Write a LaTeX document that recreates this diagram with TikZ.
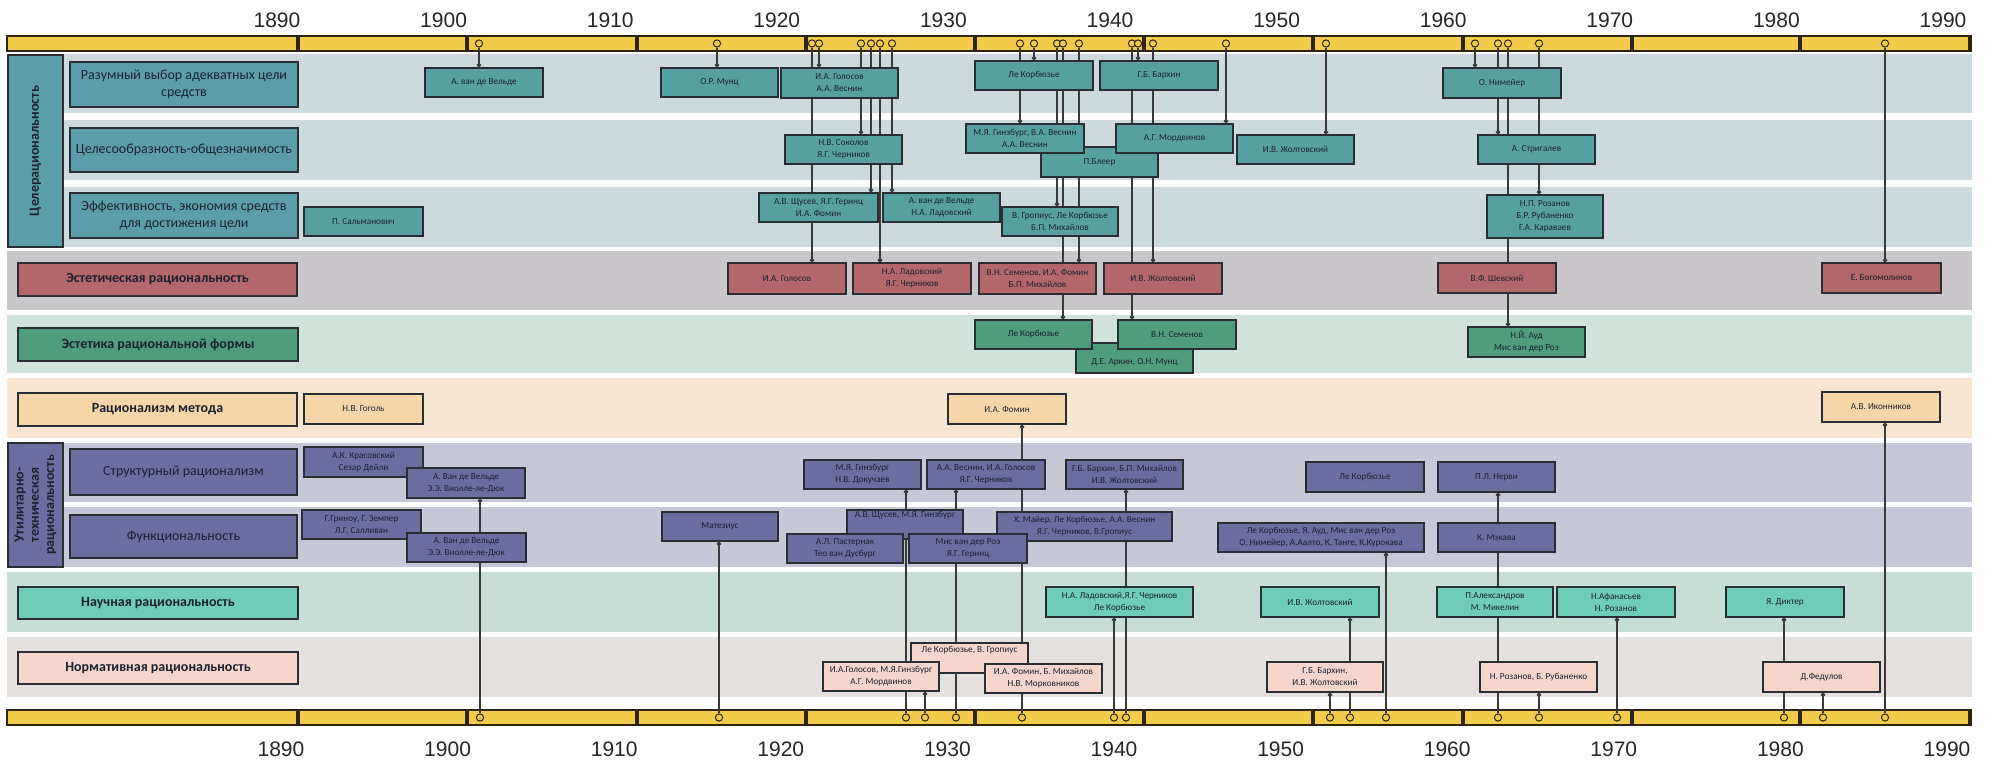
\documentclass[tikz,border=0pt]{standalone}
\usepackage{fontspec}
\setmainfont{Carlito}
\newfontfamily\yearfont{Liberation Sans}
\usetikzlibrary{arrows.meta,backgrounds}

\definecolor{bandA}{HTML}{CCDADD}
\definecolor{bandR}{HTML}{C9C7CA}
\definecolor{bandG}{HTML}{D0E2DA}
\definecolor{bandO}{HTML}{F9E6D0}
\definecolor{bandP}{HTML}{C6C8D7}
\definecolor{bandT}{HTML}{C6DED6}
\definecolor{bandN}{HTML}{E4E0DE}
\definecolor{tealhead}{HTML}{5C9DAA}
\definecolor{tealbox}{HTML}{56A0A0}
\definecolor{redbox}{HTML}{B3676A}
\definecolor{greenbox}{HTML}{4F9D7D}
\definecolor{orangebox}{HTML}{F6D6A9}
\definecolor{purplebox}{HTML}{6B6E9F}
\definecolor{aquabox}{HTML}{6FCCB7}
\definecolor{pinkbox}{HTML}{F6D5CD}
\definecolor{barfill}{HTML}{F2CB4B}
\definecolor{bardraw}{HTML}{2E2410}
\definecolor{boxline}{HTML}{2A2D33}
\definecolor{wire}{HTML}{3A3A3A}
\definecolor{ink}{HTML}{1C2230}

\pgfdeclarelayer{bands}
\pgfdeclarelayer{links}
\pgfsetlayers{bands,links,main}

\begin{document}
\begin{tikzpicture}
[x=0.5pt,y=-0.5pt,
spot/.style n args={4}{at={({(#1+#3)/2},{(#2+#4)/2})},minimum width={(#3-#1)*0.5pt},minimum height={(#4-#2)*0.5pt}},
namebox/.style={draw=boxline,line width=0.6pt,inner sep=0pt,align=center,text=ink,font=\fontsize{4.6}{6}\selectfont},
rowbox/.style={draw=boxline,line width=0.7pt,inner sep=0pt,align=center,text=ink,font=\fontsize{7}{8.5}\selectfont},
groupbox/.style={draw=boxline,line width=0.7pt,inner sep=0pt,align=center,text=ink,rotate=90,font=\fontsize{7}{7.6}\selectfont\bfseries},
knob/.style={circle,draw=bardraw,fill=barfill,line width=0.5pt,minimum size=3.6pt,inner sep=0pt},
link/.style={draw=wire,line width=0.7pt},
year/.style={text=black!85,font=\yearfont\fontsize{10.5}{12}\selectfont}]
\useasboundingbox (0,0) rectangle (1993,764);
%% bands and time bars
\begin{pgfonlayer}{bands}
\foreach \ya/\yb/\c in {54/113/bandA,120/180/bandA,187/247/bandA,251/310/bandR,315/373/bandG,378/438/bandO,443/502/bandP,507/567/bandP,572/632/bandT,637/697/bandN}
  \fill[fill=\c] (7,\ya) rectangle (1972,\yb);
\foreach \ya/\yb in {36/51,710/725}{
  \draw[fill=barfill,draw=bardraw,line width=0.7pt] (7,\ya) rectangle (1971,\yb);
  \foreach \x in {298,467,637,806,975,1144,1313,1463,1632,1800,1970}
    \draw[bardraw,line width=1.6pt] (\x,\ya) -- (\x,\yb);
}
\end{pgfonlayer}
%%
\foreach \y [count=\k from 0] in {1890,1900,...,1990}{
  \node (yt\y) [year] at (277+166.6*\k,20) {\y};
  \node (yb\y) [year] at (281+166.6*\k,749) {\y};
}
%% groups and rows
\node (goal) [groupbox,fill=tealhead,minimum width=96pt,minimum height=27.5pt] at (35.5,151) {Целерациональность};
\node (util) [groupbox,fill=purplebox,minimum width=62pt,minimum height=27.5pt] at (35.5,505) {Утилитарно-\\техническая\\рациональность};
\node (r1) [rowbox,fill=tealhead,spot={70}{62}{298}{107}] {Разумный выбор адекватных цели\\средств};
\node (r2) [rowbox,fill=tealhead,spot={70}{128}{298}{172}] {Целесообразность-общезначимость};
\node (r3) [rowbox,fill=tealhead,spot={70}{193}{298}{238}] {Эффективность, экономия средств\\для достижения цели};
\node (r4) [rowbox,fill=redbox,spot={18}{263}{297}{296}] {\bfseries Эстетическая рациональность};
\node (r5) [rowbox,fill=greenbox,spot={18}{328}{298}{361}] {\bfseries Эстетика рациональной формы};
\node (r6) [rowbox,fill=orangebox,spot={18}{393}{297}{426}] {\bfseries Рационализм метода};
\node (r7) [rowbox,fill=purplebox,spot={70}{449}{297}{495}] {Структурный рационализм};
\node (r8) [rowbox,fill=purplebox,spot={70}{515}{297}{558}] {Функциональность};
\node (r9) [rowbox,fill=aquabox,spot={18}{587}{298}{619}] {\bfseries Научная рациональность};
\node (r10) [rowbox,fill=pinkbox,spot={18}{652}{298}{684}] {\bfseries Нормативная рациональность};
%% row 1
\node (vel1) [namebox,fill=tealbox,spot={425}{68}{543}{97}] {А. ван де Вельде};
\node (munz1) [namebox,fill=tealbox,spot={661}{68}{778}{97}] {О.Р. Мунц};
\node (gol1) [namebox,fill=tealbox,spot={781}{68}{898}{98}] {И.А. Голосов\\А.А. Веснин};
\node (lec1) [namebox,fill=tealbox,spot={975}{61}{1093}{90}] {Ле Корбюзье};
\node (bar1) [namebox,fill=tealbox,spot={1100}{61}{1218}{90}] {Г.Б. Бархин};
\node (nim1) [namebox,fill=tealbox,spot={1443}{68}{1561}{98}] {О. Нимейер};
%% row 2
\node (sok2) [namebox,fill=tealbox,spot={785}{135}{902}{164}] {Н.В. Соколов\\Я.Г. Черников};
\node (bler2) [namebox,fill=tealbox,spot={1041}{147}{1158}{177}] {П.Блеер};
\node (gin2) [namebox,fill=tealbox,spot={966}{124}{1084}{153}] {М.Я. Гинзбург, В.А. Веснин\\А.А. Веснин};
\node (mor2) [namebox,fill=tealbox,spot={1116}{124}{1233}{153}] {А.Г. Мордвинов};
\node (zhol2) [namebox,fill=tealbox,spot={1237}{135}{1354}{164}] {И.В. Жолтовский};
\node (str2) [namebox,fill=tealbox,spot={1478}{135}{1595}{164}] {А. Стригалев};
%% row 3
\node (sal3) [namebox,fill=tealbox,spot={304}{207}{423}{236}] {П. Сальманович};
\node (shc3) [namebox,fill=tealbox,spot={759}{193}{878}{222}] {А.В. Щусев, Я.Г. Геринц\\И.А. Фомин};
\node (vel3) [namebox,fill=tealbox,spot={883}{193}{1000}{222}] {А. ван де Вельде\\Н.А. Ладовский};
\node (gro3) [namebox,fill=tealbox,spot={1002}{207}{1118}{236}] {В. Гропиус, Ле Корбюзье\\Б.П. Михайлов};
\node (roz3) [namebox,fill=tealbox,spot={1487}{195}{1603}{238}] {Н.П. Розанов\\Б.Р. Рубаненко\\Г.А. Караваев};
%% row 4
\node (gol4) [namebox,fill=redbox,spot={728}{263}{846}{294}] {И.А. Голосов};
\node (lad4) [namebox,fill=redbox,spot={853}{263}{971}{294}] {Н.А. Ладовский\\Я.Г. Черников};
\node (sem4) [namebox,fill=redbox,spot={979}{263}{1096}{294}] {В.Н. Семенов, И.А. Фомин\\Б.П. Михайлов};
\node (zhol4) [namebox,fill=redbox,spot={1104}{263}{1222}{294}] {И.В. Жолтовский};
\node (shev4) [namebox,fill=redbox,spot={1438}{263}{1556}{293}] {В.Ф. Шевский};
\node (bog4) [namebox,fill=redbox,spot={1822}{263}{1941}{293}] {Е. Богомолинов};
%% row 5
\node (ark5) [namebox,fill=greenbox,spot={1076}{343}{1193}{373}] {\\[1pt]Д.Е. Аркин, О.Н. Мунц};
\node (lec5) [namebox,fill=greenbox,spot={975}{320}{1092}{349}] {Ле Корбюзье};
\node (sem5) [namebox,fill=greenbox,spot={1118}{320}{1236}{349}] {В.Н. Семенов};
\node (aud5) [namebox,fill=greenbox,spot={1468}{327}{1585}{357}] {Н.Й. Ауд\\Мис ван дер Роэ};
%% row 6
\node (gog6) [namebox,fill=orangebox,spot={304}{394}{423}{424}] {Н.В. Гоголь};
\node (fom6) [namebox,fill=orangebox,spot={948}{394}{1066}{424}] {И.А. Фомин};
\node (ikon6) [namebox,fill=orangebox,spot={1822}{392}{1940}{422}] {А.В. Иконников};
%% row 7
\node (kra7) [namebox,fill=purplebox,spot={304}{447}{423}{477}] {А.К. Красовский\\Сезар Дейли};
\node (vel7) [namebox,fill=purplebox,spot={407}{468}{525}{498}] {А. Ван де Вельде\\Э.Э. Виолле-ле-Дюк};
\node (gin7) [namebox,fill=purplebox,spot={804}{460}{921}{489}] {М.Я. Гинзбург\\Н.В. Докучаев};
\node (ves7) [namebox,fill=purplebox,spot={927}{460}{1045}{489}] {А.А. Веснин, И.А. Голосов\\Я.Г. Черников};
\node (bar7) [namebox,fill=purplebox,spot={1066}{460}{1183}{489}] {Г.Б. Бархин, Б.П. Михайлов\\И.В. Жолтовский};
\node (lec7) [namebox,fill=purplebox,spot={1306}{462}{1424}{492}] {Ле Корбюзье};
\node (ner7) [namebox,fill=purplebox,spot={1438}{462}{1555}{492}] {П.Л. Нерви};
%% row 8
\node (gri8) [namebox,fill=purplebox,spot={302}{510}{421}{539}] {Г.Гриноу, Г. Земпер\\Л.Г. Салливан};
\node (vel8) [namebox,fill=purplebox,spot={407}{533}{526}{562}] {А. Ван де Вельде\\Э.Э. Виолле-ле-Дюк};
\node (mat8) [namebox,fill=purplebox,spot={662}{512}{778}{541}] {Матезиус};
\node (shc8) [namebox,fill=purplebox,spot={847}{510}{963}{539}] {А.В. Щусев, М.Я. Гинзбург\\[4pt]};
\node (past8) [namebox,fill=purplebox,spot={787}{534}{903}{563}] {А.Л. Пастернак\\Тео ван Дусбург};
\node (may8) [namebox,fill=purplebox,spot={997}{512}{1172}{541}] {Х. Майер, Ле Корбюзье, А.А. Веснин\\Я.Г. Черников, В.Гропиус};
\node (mis8) [namebox,fill=purplebox,spot={909}{534}{1027}{563}] {Мис ван дер Роэ\\Я.Г. Геринц};
\node (lec8) [namebox,fill=purplebox,spot={1218}{523}{1424}{552}] {Ле Корбюзье, Я. Ауд, Мис ван дер Роэ\\О. Нимейер, А.Аалто, К. Танге, К.Курокава};
\node (mek8) [namebox,fill=purplebox,spot={1438}{523}{1555}{552}] {К. Мэкава};
%% row 9
\node (lad9) [namebox,fill=aquabox,spot={1046}{587}{1193}{617}] {Н.А. Ладовский,Я.Г. Черников\\Ле Корбюзье};
\node (zhol9) [namebox,fill=aquabox,spot={1261}{587}{1379}{617}] {И.В. Жолтовский};
\node (ale9) [namebox,fill=aquabox,spot={1437}{587}{1553}{617}] {П.Александров\\М. Микелин};
\node (afa9) [namebox,fill=aquabox,spot={1557}{587}{1675}{617}] {Н.Афанасьев\\Н. Розанов};
\node (dik9) [namebox,fill=aquabox,spot={1726}{587}{1844}{617}] {Я. Диктер};
%% row 10
\node (lec10) [namebox,fill=pinkbox,spot={911}{643}{1028}{673}] {Ле Корбюзье, В. Гропиус\\[3pt]};
\node (gol10) [namebox,fill=pinkbox,spot={823}{662}{939}{691}] {И.А.Голосов, М.Я.Гинзбург\\А.Г. Мордвинов};
\node (fom10) [namebox,fill=pinkbox,spot={985}{664}{1102}{693}] {И.А. Фомин, Б. Михайлов\\Н.В. Морковников};
\node (bar10) [namebox,fill=pinkbox,spot={1267}{662}{1383}{692}] {Г.Б. Бархин,\\И.В. Жолтовский};
\node (roz10) [namebox,fill=pinkbox,spot={1480}{662}{1597}{692}] {Н. Розанов, Б. Рубаненко};
\node (fed10) [namebox,fill=pinkbox,spot={1763}{662}{1880}{692}] {Д.Федулов};
%% dates on the upper bar
\foreach \x/\n in {479/vel1,717/munz1,812/gol4,819/gol1,861/sok2,871/shc3,880/lad4,892/vel3,1020/gin2,1034/lec1,1057/gro3,1063/lec5,1079/sem4,1132/sem5,1138/bar1,1153/zhol4,1226/mor2,1326/zhol2,1475/nim1,1498/str2,1508/aud5,1539/roz3,1885/bog4}{
  \node (tp-\n) [knob] at (\x,43.5) {};
  \begin{pgfonlayer}{links}
  \draw[link,-{Circle[length=2.2pt]}] (tp-\n) -- (tp-\n |- \n.north);
  \end{pgfonlayer}
}
%% dates on the lower bar
\foreach \x/\n in {480/vel7,719/mat8,906/gin7,925/gol10,956/ves7,1022/fom6,1114/lad9,1126/bar7,1330/bar10,1350/zhol9,1386/lec8,1498/ner7,1539/roz10,1617/afa9,1784/dik9,1823/fed10,1885/ikon6}{
  \node (bp-\n) [knob] at (\x,717.5) {};
  \begin{pgfonlayer}{links}
  \draw[link,{Circle[length=2.2pt]}-] (\n.south -| bp-\n) -- (bp-\n);
  \end{pgfonlayer}
}
\end{tikzpicture}
\end{document}
